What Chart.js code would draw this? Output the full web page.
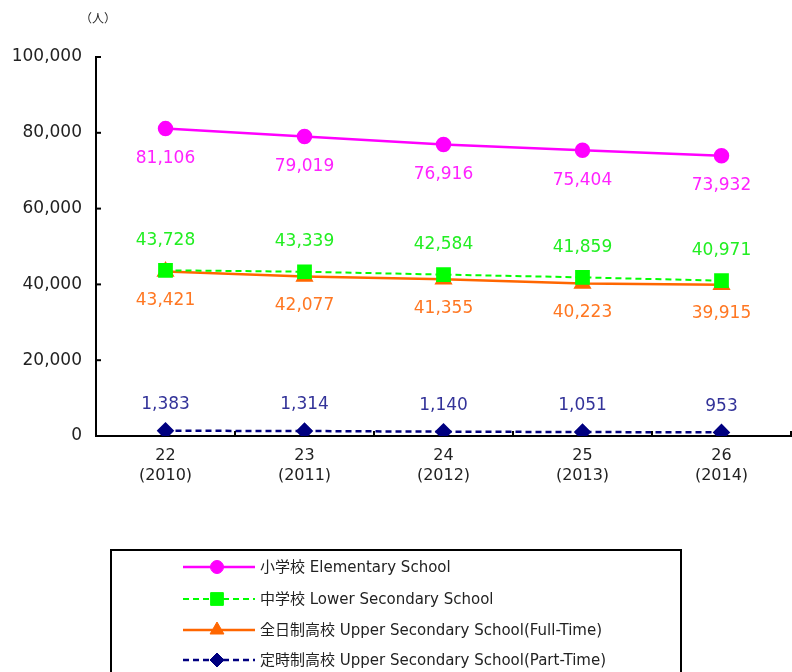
<!DOCTYPE html>
<html><head><meta charset="utf-8">
<script src="https://cdn.jsdelivr.net/npm/chart.js@4/dist/chart.umd.min.js"></script>
<style>html,body{margin:0;padding:0;background:#fff}#wrap{width:792px;height:672px;position:relative}</style>
</head><body><div id="wrap"><canvas id="c" width="792" height="672"></canvas></div>
<script>
const categories = [['22','(2010)'],['23','(2011)'],['24','(2012)'],['25','(2013)'],['26','(2014)']];
const elementary = [81106, 79019, 76916, 75404, 73932];
const lowerSecondary = [43728, 43339, 42584, 41859, 40971];
const upperFullTime = [43421, 42077, 41355, 40223, 39915];
const upperPartTime = [1383, 1314, 1140, 1051, 953];
const seriesNames = ['小学校 Elementary School','中学校 Lower Secondary School','全日制高校 Upper Secondary School(Full-Time)','定時制高校 Upper Secondary School(Part-Time)'];
const yTicks = [0, 20000, 40000, 60000, 80000, 100000];

const FONT = '"DejaVu Sans", "Noto Sans CJK JP", sans-serif';
const fmt = v => v.toLocaleString('en-US');

const labelOffsets = [30, -30, 29, -26];
const labelColors = ['#FF22FF', '#22EE22', '#FF7722', '#333399'];

const dataLabels = {
  id: 'dataLabels',
  afterDatasetsDraw(chart) {
    const ctx = chart.ctx;
    ctx.save();
    ctx.font = '17px ' + FONT;
    ctx.textAlign = 'center';
    ctx.textBaseline = 'middle';
    chart.data.datasets.forEach((ds, di) => {
      const meta = chart.getDatasetMeta(di);
      meta.data.forEach((pt, i) => {
        ctx.fillStyle = labelColors[di];
        ctx.fillText(fmt(ds.data[i]), pt.x, pt.y + labelOffsets[di]);
      });
    });
    ctx.restore();
  }
};

const axisTicks = {
  id: 'axisTicks',
  afterDraw(chart) {
    const ctx = chart.ctx, x = chart.scales.x, y = chart.scales.y;
    ctx.save();
    ctx.strokeStyle = '#000';
    ctx.lineWidth = 2;
    yTicks.forEach(v => {
      const py = y.getPixelForValue(v);
      ctx.beginPath(); ctx.moveTo(x.left, py); ctx.lineTo(x.left + 5, py); ctx.stroke();
    });
    for (let i = 0; i <= categories.length; i++) {
      const px = x.getPixelForValue(i - 0.5);
      ctx.beginPath(); ctx.moveTo(px, y.bottom); ctx.lineTo(px, y.bottom - 5); ctx.stroke();
    }
    ctx.fillStyle = '#222';
    ctx.font = '12px "Noto Sans CJK JP", sans-serif';
    ctx.textAlign = 'left';
    ctx.textBaseline = 'middle';
    ctx.fillText('（人）', 80, 18);
    ctx.restore();
  }
};

const boxLegend = {
  id: 'boxLegend',
  afterDraw(chart) {
    const ctx = chart.ctx;
    ctx.save();
    ctx.strokeStyle = '#000';
    ctx.lineWidth = 2;
    ctx.strokeRect(111, 550, 570, 140);
    const rows = [567, 599, 630, 660];
    chart.data.datasets.forEach((ds, di) => {
      const ry = rows[di];
      ctx.save();
      ctx.strokeStyle = ds.borderColor;
      ctx.lineWidth = ds.borderWidth;
      ctx.setLineDash(ds.borderDash || []);
      ctx.beginPath(); ctx.moveTo(183, ry); ctx.lineTo(255, ry); ctx.stroke();
      ctx.restore();
      ctx.save();
      ctx.fillStyle = ds.pointBackgroundColor;
      ctx.strokeStyle = ds.pointBorderColor;
      ctx.lineWidth = 1;
      Chart.helpers.drawPoint(ctx, {pointStyle: ds.pointStyle, radius: ds.pointRadius, borderWidth: 1, rotation: 0}, 217, ry);
      ctx.restore();
      ctx.fillStyle = '#222';
      ctx.font = '15px ' + FONT;
      ctx.textAlign = 'left';
      ctx.textBaseline = 'middle';
      ctx.fillText(seriesNames[di], 260, ry + 1);
    });
    ctx.restore();
  }
};

new Chart(document.getElementById('c'), {
  type: 'line',
  data: {
    labels: categories,
    datasets: [
      {label: seriesNames[0], data: elementary, borderColor: '#FF00FF', borderWidth: 2.5, pointStyle: 'circle', pointRadius: 6.5, pointBackgroundColor: '#FF00FF', pointBorderColor: '#FF00FF', tension: 0},
      {label: seriesNames[1], data: lowerSecondary, borderColor: '#00FF00', borderWidth: 2, borderDash: [6, 4], pointStyle: 'rect', pointRadius: 9, pointBackgroundColor: '#00FF00', pointBorderColor: '#00FF00', tension: 0},
      {label: seriesNames[2], data: upperFullTime, borderColor: '#FF6600', borderWidth: 2.5, pointStyle: 'triangle', pointRadius: 8, pointBackgroundColor: '#FF6600', pointBorderColor: '#FF6600', tension: 0},
      {label: seriesNames[3], data: upperPartTime, borderColor: '#000080', borderWidth: 2.5, borderDash: [6, 4], pointStyle: 'rectRot', pointRadius: 7, pointBackgroundColor: '#000080', pointBorderColor: '#000080', tension: 0}
    ]
  },
  options: {
    responsive: false,
    animation: false,
    layout: {autoPadding: false, padding: {top: 57, right: 1, bottom: 186, left: 0}},
    plugins: {legend: {display: false}, tooltip: {enabled: false}},
    scales: {
      x: {
        offset: true,
        grid: {display: false, offset: true},
        border: {display: true, color: '#000', width: 2},
        ticks: {color: '#222', font: {family: FONT, size: 16, lineHeight: 1.3}, padding: 1, maxRotation: 0, autoSkip: false},
        afterFit: s => { s.height = 50; }
      },
      y: {
        min: 0, max: 100000,
        afterBuildTicks: s => { s.ticks = yTicks.map(v => ({value: v})); },
        grid: {display: false},
        border: {display: true, color: '#000', width: 2},
        ticks: {color: '#222', font: {family: FONT, size: 17}, padding: 6, callback: v => fmt(v)},
        afterFit: s => { s.width = 96; }
      }
    }
  },
  plugins: [dataLabels, axisTicks, boxLegend]
});
</script></body></html>
